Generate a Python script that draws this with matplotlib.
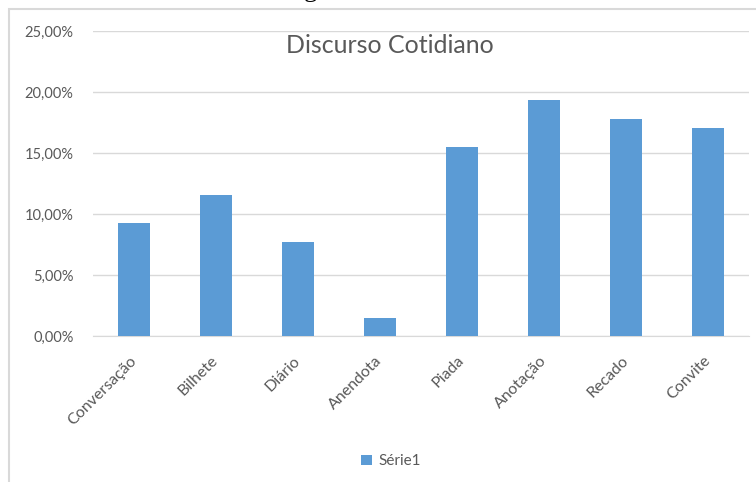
import matplotlib.pyplot as plt
from matplotlib.patches import Rectangle
from matplotlib.ticker import FuncFormatter

categorias = ['Conversação', 'Bilhete', 'Diário', 'Anendota', 'Piada', 'Anotação', 'Recado', 'Convite']
valores = [9.3, 11.6, 7.7, 1.5, 15.5, 19.4, 17.8, 17.05]
serie = 'Série1'
titulo = 'Discurso Cotidiano'

cor_barra = '#5b9bd5'
cor_texto = '#595959'
cor_grade = '#d9d9d9'

plt.rcParams['font.family'] = ['Lato', 'DejaVu Sans']

fig = plt.figure(figsize=(7.56, 4.82), dpi=100)
ax = fig.add_axes([0.123, 0.3023, 0.8677, 0.6327])

x = range(len(categorias))
ax.bar(x, valores, width=0.4, color=cor_barra, label=serie, zorder=3)

ax.set_xlim(-0.5, len(categorias) - 0.5)
ax.set_ylim(0, 25)
ax.set_yticks([0, 5, 10, 15, 20, 25])
ax.yaxis.set_major_formatter(FuncFormatter(lambda v, p: f'{v:.2f}%'.replace('.', ',')))
ax.grid(axis='y', color=cor_grade, linewidth=1, zorder=0)
for s in ['top', 'right', 'left']:
    ax.spines[s].set_visible(False)
ax.spines['bottom'].set_color(cor_grade)
ax.tick_params(axis='y', length=0, colors=cor_texto, labelsize=10.5, pad=14)
ax.tick_params(axis='x', length=0, colors=cor_texto, labelsize=11.5, pad=16)
ax.set_xticks(list(x))
ax.set_xticklabels(categorias, rotation=45, ha='right', va='center', rotation_mode='anchor')

fig.text(0.516, 0.905, titulo, ha='center', va='center', fontsize=18, color=cor_texto)

fig.legend(loc='center', bbox_to_anchor=(0.517, 0.043), frameon=False,
           fontsize=11, labelcolor=cor_texto, handlelength=0.7, handleheight=0.7,
           handletextpad=0.4)

# moldura do gráfico
fig.patches.append(Rectangle((9 / 756, -0.1), 1.2, 1 - 9 / 482 + 0.1,
                             transform=fig.transFigure, fill=False,
                             edgecolor=cor_grade, linewidth=1.5))

# legenda da figura, cortada no topo
fig.text(0.5, 1 + 3 / 482, 'Figura 6 - Gráfico', ha='center', va='baseline',
         fontsize=19, family=['Liberation Serif', 'DejaVu Serif'], color='black')

fig.savefig('out.png', dpi=100)
